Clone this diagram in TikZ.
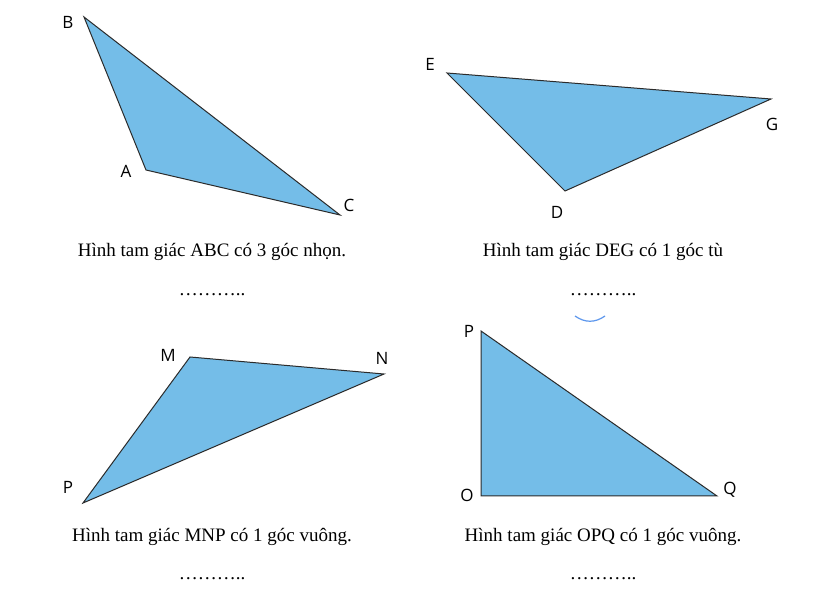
\documentclass[tikz,border=0pt]{standalone}
\usepackage{fontspec}
\setmainfont{Liberation Serif}
\newfontfamily\lab{Open Sans}
\definecolor{tri}{HTML}{74BDE8}
\definecolor{edge}{HTML}{2B2B2B}
\begin{document}
\begin{tikzpicture}[x=1pt,y=-1pt,
  trifill/.style={fill=tri,draw=edge,line width=1pt,line join=miter},
  vlab/.style={font=\lab\fontsize{17}{17}\selectfont,text=black,inner sep=0pt},
  captext/.style={font=\fontsize{19}{19}\selectfont,inner sep=0pt}]
\useasboundingbox[fill=white] (0,0) rectangle (820,593);
% ABC
\coordinate (B) at (84,17); \coordinate (A) at (146,170); \coordinate (C) at (340,215);
\fill[trifill] (B)--(A)--(C)--cycle;
\node[vlab] (lB) at (68,22) {B}; \node[vlab] (lA) at (126,171) {A}; \node[vlab] (lC) at (349,205) {C};
% DEG
\coordinate (E) at (447,73); \coordinate (G) at (771,99); \coordinate (D) at (565,191);
\fill[trifill] (E)--(G)--(D)--cycle;
\node[vlab] (lE) at (430,64) {E}; \node[vlab] (lG) at (772,124) {G}; \node[vlab] (lD) at (557,212) {D};
% MNP
\coordinate (M) at (190,357); \coordinate (N) at (384,374); \coordinate (P1) at (83,503);
\fill[trifill] (M)--(N)--(P1)--cycle;
\node[vlab] (lM) at (168,355) {M}; \node[vlab] (lN) at (382,358) {N}; \node[vlab] (lP1) at (68,487) {P};
% OPQ
\coordinate (P2) at (481,331); \coordinate (O) at (481,496); \coordinate (Q) at (717,496);
\fill[trifill] (P2)--(O)--(Q)--cycle;
\node[vlab] (lP2) at (469,331) {P}; \node[vlab] (lO) at (467,495) {O}; \node[vlab] (lQ) at (730,490) {Q};
% captions
\node[captext] (t1) at (212,252) {Hình tam giác ABC có 3 góc nhọn.};
\node[captext] (t2) at (603,252) {Hình tam giác DEG có 1 góc tù};
\node[captext] (d1) at (212,295) {………..};
\node[captext] (d2) at (603,295) {………..};
\node[captext] (t3) at (212,537) {Hình tam giác MNP có 1 góc vuông.};
\node[captext] (t4) at (603,537) {Hình tam giác OPQ có 1 góc vuông.};
\node[captext] (d3) at (212,579) {………..};
\node[captext] (d4) at (603,579) {………..};
\coordinate (a1) at (575,316); \coordinate (a2) at (605,316);
\draw[tri!80!blue,line width=1.2pt] (a1) .. controls (585,323) and (595,323) .. (a2);
\end{tikzpicture}
\end{document}
